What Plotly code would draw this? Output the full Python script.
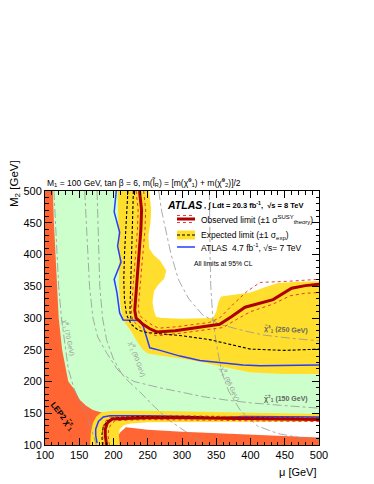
import plotly.graph_objects as go

# ---------------- data (mu [GeV], M2 [GeV]) ----------------
x_ticks = [100, 150, 200, 250, 300, 350, 400, 450, 500]
y_ticks = [100, 150, 200, 250, 300, 350, 400, 450, 500]

# green region (drawn first, partly covered)
green_mu = [100, 210, 210, 214, 245, 300, 400, 500, 500, 100]
green_m2 = [500, 500, 320, 296, 248, 236, 214, 212, 148, 148]

# LEP2 chargino excluded (left part)
lep_left_mu = [100, 111.5, 113, 115, 117, 120, 125, 134, 141, 151, 160, 170, 180, 188, 190, 100]
lep_left_m2 = [500, 500, 450, 400, 350, 300, 250, 200, 190, 171, 162, 155, 152, 150, 100, 100]
# LEP2 chargino excluded (bottom strip)
lep_bot_mu = [200, 205, 210, 218, 225, 250, 300, 350, 400, 450, 500, 500]
lep_bot_m2 = [100, 112, 120, 128, 127, 124, 121, 119, 117, 114, 112, 100]

# expected +-1 sigma band, upper region
yel_up_mu = [206, 252, 255, 254, 251, 252, 258, 268, 277, 274, 265, 259, 257, 259, 262, 270, 300, 330,
             345, 350, 353, 357, 375, 400, 420, 440, 470, 500, 500, 450, 400, 380, 355, 330, 300, 268,
             250, 243, 235, 225, 214, 210, 208, 208, 207, 206]
yel_up_m2 = [500, 500, 470, 450, 430, 410, 400, 390, 375, 362, 352, 342, 325, 312, 302, 300, 299, 299,
             300, 310, 325, 334, 337, 340, 348, 355, 357, 358, 212, 212, 214, 218, 224, 230, 236, 241,
             244, 250, 262, 280, 296, 320, 350, 400, 450, 500]
# expected +-1 sigma band, lower region
yel_lo_mu = [166, 167, 170, 175, 182, 199, 250, 300, 350, 400, 450, 500, 500, 450, 400, 350, 300, 250,
             225, 215, 209, 208, 209]
yel_lo_m2 = [100, 120, 135, 145, 151, 154, 154, 153, 152, 151, 150, 149, 137, 137, 136, 136, 136, 136,
             134, 131, 125, 115, 100]

# observed limit
obs_up_mu = [238, 241, 240, 237, 235, 233, 231, 233, 243, 253, 263, 290, 312, 340, 355, 372, 392, 433,
             450, 460, 480, 500]
obs_up_m2 = [500, 470, 440, 400, 370, 340, 312, 300, 290, 283, 278, 280, 283, 287, 290, 302, 317, 329,
             340, 347, 351, 353]
obs_lo_mu = [190, 188, 188, 191, 198, 215, 250, 300, 350, 400, 450, 500]
obs_lo_m2 = [100, 115, 125, 135, 141, 142, 143, 143, 142, 141, 140, 140]

# observed +-1 sigma theory
thA_up_mu = [233, 236, 235, 232, 230, 228, 226, 228, 240, 252, 263, 290, 312, 340, 360, 380, 400, 433,
             458, 480, 500]
thA_up_m2 = [500, 470, 440, 400, 370, 340, 312, 296, 284, 276, 272, 275, 278, 282, 285, 298, 310, 322,
             335, 339, 340]
thB_up_mu = [244, 247, 246, 243, 240, 238, 236, 238, 248, 258, 266, 290, 312, 340, 355, 375, 395, 414,
             458, 500]
thB_up_m2 = [500, 470, 440, 400, 370, 340, 315, 304, 295, 288, 284, 286, 289, 293, 300, 322, 342, 356,
             358, 361]
thA_lo_mu = [186, 184, 184, 187, 195, 215, 250, 300, 350, 400, 450, 500]
thA_lo_m2 = [100, 115, 126, 136, 144, 145, 146, 146, 145, 144, 143, 143]
thB_lo_mu = [194, 192, 193, 196, 202, 215, 250, 300, 350, 400, 450, 500]
thB_lo_m2 = [100, 115, 125, 132, 138, 139, 140, 140, 139, 138, 137, 137]

# expected limit
exp_up_mu = [221, 220, 218, 216, 215, 216, 219, 226, 236, 250, 300, 340, 370, 400, 450, 500]
exp_up_m2 = [500, 470, 440, 400, 360, 330, 305, 290, 281, 277, 272, 266, 258, 251, 249, 251]
exp_up2_mu = [229, 228, 227, 226, 225, 224, 226]
exp_up2_m2 = [500, 460, 420, 380, 340, 310, 296]
exp_lo_mu = [184, 183, 185, 190, 198, 215, 250, 300, 350, 400, 450, 500]
exp_lo_m2 = [100, 115, 128, 137, 142, 144, 145, 145, 144, 143, 142, 142]

# ATLAS 7 TeV
blue_up_mu = [204, 201, 209, 206, 211, 201, 205, 209, 214, 239, 244, 249, 253, 268, 297, 326, 355, 389,
              414, 450, 500]
blue_up_m2 = [500, 467, 435, 413, 388, 361, 340, 308, 297, 296, 285, 268, 253, 249, 240, 233, 230, 226,
              225, 225, 226]
blue_lo_mu = [176, 174, 174, 178, 185, 195, 250, 282, 310, 341, 360, 389, 420, 494, 500]
blue_lo_m2 = [103, 115, 125, 137, 144, 146, 146, 146, 145, 143, 143, 145, 145, 144, 144]

# mass contours
n70_mu = [113, 115, 117, 120, 124, 129, 134, 142, 152, 162, 168, 173, 175]
n70_m2 = [500, 450, 400, 350, 300, 260, 220, 190, 165, 145, 125, 108, 100]
n90_mu = [158, 160, 162, 165, 170, 177, 190, 205, 224, 240, 260, 280, 300, 316, 335]
n90_m2 = [500, 450, 400, 350, 300, 270, 245, 220, 198, 182, 160, 140, 125, 113, 100]
n96_mu = [340, 340, 341, 342, 345, 350, 358, 368, 385, 410, 440, 470, 500]
n96_m2 = [500, 450, 400, 350, 300, 260, 215, 185, 155, 130, 118, 112, 108]
c150_mu = [176, 177, 178, 180, 184, 190, 200, 212, 230, 268, 300, 331, 370, 404, 450, 500]
c150_m2 = [500, 450, 400, 350, 300, 265, 235, 212, 200, 190, 183, 176, 170, 166, 162, 158]
c250_mu = [266, 270, 276, 284, 295, 310, 330, 355, 390, 420, 460, 500]
c250_m2 = [500, 470, 440, 400, 360, 330, 305, 290, 280, 273, 268, 264]

# ---------------- figure ----------------
# page pixel geometry (the page body adds an 8 px offset to the figure)
OFF = 8
PW, PH = 374, 484
L, R, T, B = 45, 319, 191, 445          # plot area in page pixels
W, H = PW - OFF, PH - OFF                # figure size
FONT = "Liberation Sans, Arial, Helvetica, sans-serif"


def pxx(x):
    return (x - L) / (R - L)


def pyy(y):
    return (B - y) / (B - T)


GREEN = "rgb(204,255,204)"
ORANGE = "rgb(255,102,51)"
YELLOW = "rgb(255,222,45)"
DKRED = "rgb(175,0,0)"
RED = "rgb(225,40,40)"
BLUE = "rgb(40,60,255)"
GRAY = "rgb(150,150,150)"

fig = go.Figure()


def area(xs, ys, color):
    fig.add_trace(go.Scatter(x=xs, y=ys, mode="lines", fill="toself", fillcolor=color,
                             line=dict(width=0, color=color), hoverinfo="skip", showlegend=False))


def line(xs, ys, color, width, dash="solid"):
    fig.add_trace(go.Scatter(x=xs, y=ys, mode="lines", line=dict(color=color, width=width, dash=dash),
                             hoverinfo="skip", showlegend=False))


area(green_mu, green_m2, GREEN)
area(lep_left_mu, lep_left_m2, ORANGE)
area(lep_bot_mu, lep_bot_m2, ORANGE)
area(yel_up_mu, yel_up_m2, YELLOW)
area(yel_lo_mu, yel_lo_m2, YELLOW)

for xs, ys in [(n70_mu, n70_m2), (n90_mu, n90_m2), (n96_mu, n96_m2), (c150_mu, c150_m2), (c250_mu, c250_m2)]:
    line(xs, ys, GRAY, 0.8, "dashdot")

line(blue_up_mu, blue_up_m2, BLUE, 1.5)
line(blue_lo_mu, blue_lo_m2, BLUE, 1.5)
line(exp_up_mu, exp_up_m2, "black", 1.1, "3px,2px")
line(exp_up2_mu, exp_up2_m2, "black", 1.1, "3px,2px")
line(exp_lo_mu, exp_lo_m2, "black", 1.1, "3px,2px")
for xs, ys in [(thA_up_mu, thA_up_m2), (thB_up_mu, thB_up_m2), (thA_lo_mu, thA_lo_m2), (thB_lo_mu, thB_lo_m2)]:
    line(xs, ys, RED, 0.9, "dot")
line(obs_up_mu, obs_up_m2, DKRED, 3)
line(obs_lo_mu, obs_lo_m2, DKRED, 3)

axis_common = dict(
    range=[100, 500], tickmode="array", showgrid=False, zeroline=False,
    ticks="inside", ticklen=7, tickwidth=1, tickcolor="black",
    showline=True, linecolor="black", linewidth=1, mirror="allticks",
    tickfont=dict(family=FONT, size=11, color="black"),
    minor=dict(dtick=10, ticks="inside", ticklen=3.5, tickcolor="black", tickwidth=1, showgrid=False),
)
fig.update_xaxes(tickvals=x_ticks, ticktext=[str(v) for v in x_ticks], **axis_common)
fig.update_yaxes(tickvals=y_ticks, ticktext=[str(v) for v in y_ticks], **axis_common)

ann = []


def text(x, y, s, size, color="black", xanchor="left", yanchor="middle", angle=0, xref="paper", yref="paper"):
    ann.append(dict(x=x, y=y, xref=xref, yref=yref, text=s, showarrow=False, xanchor=xanchor,
                    yanchor=yanchor, textangle=angle, font=dict(family=FONT, size=size, color=color)))


# title
text(pxx(45), pyy(182), "M<sub>1</sub> = 100 GeV, tan β = 6, m(l̃<sub>R</sub>) = [m(χ̃<sup>0</sup><sub>1</sub>) + m(χ̃<sup>0</sup><sub>2</sub>)]/2", 8.5)
# axis titles
text(pxx(319), pyy(472), "μ [GeV]", 11, xanchor="right")
text(pxx(15), pyy(184), "M<sub>2</sub> [GeV]", 11.5, xanchor="center", yanchor="middle", angle=-90)

# ATLAS label + legend
text(pxx(165), pyy(205), "<b><i>ATLAS</i></b>", 10.5)
text(pxx(202), pyy(205), "<b>, ∫ Ldt = 20.3 fb<sup>-1</sup>,  √s = 8 TeV</b>", 7.5)
text(pxx(199), pyy(219), "Observed limit (±1 σ<sup>SUSY</sup><sub>theory</sub>)", 8.5)
text(pxx(199), pyy(235), "Expected limit (±1 σ<sub>exp</sub>)", 8.5)
text(pxx(199), pyy(247), "ATLAS  4.7 fb<sup>-1</sup>, √s= 7 TeV", 8.5)
text(pxx(192), pyy(263), "All limits at 95% CL", 6.8)

# contour labels (data coords)
text(134, 269, "χ̃<sup>0</sup><sub>1</sub> (70 GeV)", 6.5, GRAY, "center", "middle", 78, "x", "y")
text(234, 234, "χ̃<sup>0</sup><sub>1</sub> (90 GeV)", 6.5, GRAY, "center", "middle", 70, "x", "y")
text(370, 195, "χ̃<sup>0</sup><sub>1</sub> (96 GeV)", 6.5, GRAY, "center", "middle", 65, "x", "y")
text(452, 173, "<b>χ̃<sup>±</sup><sub>1</sub> (150 GeV)</b>", 7, "rgb(100,100,100)", "center", "middle", 0, "x", "y")
text(452, 282, "<b>χ̃<sup>±</sup><sub>1</sub> (250 GeV)</b>", 7, "rgb(100,100,100)", "center", "middle", 3, "x", "y")
text(125, 146, "<b>LEP2 χ̃<sup>±</sup><sub>1</sub></b>", 8, "black", "center", "middle", 52, "x", "y")

shapes = [
    # observed legend sample
    dict(type="line", xref="paper", yref="paper", x0=pxx(177), x1=pxx(195), y0=pyy(219), y1=pyy(219),
         line=dict(color=DKRED, width=3)),
    dict(type="line", xref="paper", yref="paper", x0=pxx(177), x1=pxx(195), y0=pyy(215.5), y1=pyy(215.5),
         line=dict(color=RED, width=0.9, dash="dot")),
    dict(type="line", xref="paper", yref="paper", x0=pxx(177), x1=pxx(195), y0=pyy(222.5), y1=pyy(222.5),
         line=dict(color=RED, width=0.9, dash="dot")),
    # expected legend sample
    dict(type="rect", xref="paper", yref="paper", x0=pxx(177), x1=pxx(195), y0=pyy(239.5), y1=pyy(230.5),
         fillcolor=YELLOW, line=dict(width=0)),
    dict(type="line", xref="paper", yref="paper", x0=pxx(177), x1=pxx(195), y0=pyy(235), y1=pyy(235),
         line=dict(color="black", width=1.1, dash="3px,2px")),
    # blue legend sample
    dict(type="line", xref="paper", yref="paper", x0=pxx(177), x1=pxx(195), y0=pyy(247), y1=pyy(247),
         line=dict(color=BLUE, width=1.5)),
]

fig.update_layout(
    width=W, height=H,
    margin=dict(l=L - OFF, r=W - (R - OFF), t=T - OFF, b=H - (B - OFF), pad=0),
    paper_bgcolor="white", plot_bgcolor="white",
    showlegend=False,
    annotations=ann, shapes=shapes,
    font=dict(family=FONT, color="black"),
)

fig.write_html("out.html")
